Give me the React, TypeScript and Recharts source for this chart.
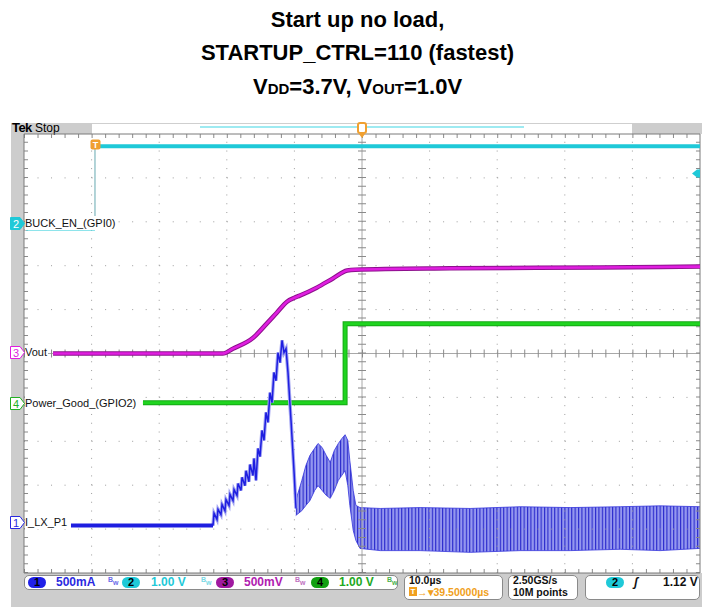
import React from "react"
import { ComposedChart, Line, Area, XAxis, YAxis, ReferenceLine } from "recharts"

// Scope screen: 10 horizontal divisions x 10 µs, 10 vertical divisions.
// X is time (µs from left edge), Y is graticule divisions (0 = centre line).

// Ch2 BUCK_EN (cyan)
const buckEnLowT = [0.3, 10.5]
const buckEnLowV = [2.82, 2.82]
const buckEnEdgeT = [10.5, 10.5]
const buckEnEdgeV = [2.82, 4.72]
const buckEnHighT = [10.5, 100]
const buckEnHighV = [4.72, 4.72]

// Ch3 Vout (magenta)
const voutT = [4.3, 29.4, 30.9, 33.9, 35.9, 37.4, 38.9, 40.0, 40.8, 43.3, 45.7, 47.8, 49.0, 63, 85.2, 100]
const voutV = [0, 0, 0.11, 0.36, 0.68, 0.93, 1.18, 1.27, 1.32, 1.5, 1.71, 1.89, 1.91, 1.94, 1.96, 1.98]

// Ch4 Power_Good (green)
const pgT = [17.6, 47.5, 47.5, 100]
const pgV = [-1.12, -1.12, 0.68, 0.68]

// Ch1 I_LX_P1 (blue): idle level, then ramp with switching teeth up to the peak
const ilxFlatT = [6.95, 27.96]
const ilxFlatV = [-3.92, -3.92]
const ilxRampT = [
  27.96, 28.11, 28.55, 28.7, 29.14, 29.29, 29.73, 29.88, 30.33, 30.47, 30.92, 31.07, 31.51, 31.66,
  32.1, 32.25, 32.69, 32.84, 33.28, 33.43, 33.88, 34.02, 34.32, 34.62, 34.91, 35.21, 35.5, 35.8,
  36.09, 36.39, 36.69, 36.98, 37.28, 37.57, 37.87, 38.17, 38.46, 38.76, 39.05, 39.5, 39.94, 40.24,
]
const ilxRampV = [
  -3.92, -3.64, -3.78, -3.55, -3.67, -3.44, -3.58, -3.33, -3.46, -3.21, -3.35, -3.1, -3.23, -2.96,
  -3.12, -2.82, -3.01, -2.67, -2.92, -2.53, -2.78, -2.39, -2.89, -2.16, -2.35, -1.75, -1.98, -1.34,
  -1.57, -0.89, -1.12, -0.43, -0.62, 0.02, -0.21, 0.3, 0.02, 0.11, -0.43, -1.53, -2.67, -3.53,
]
// ripple envelope after the peak (low / high edge of the persistence band)
const ilxBandT = [40.2, 41.1, 41.7, 42.3, 43.0, 43.5, 44.1, 44.7, 45.3, 45.9, 46.5, 47.0, 47.5, 47.9, 48.2, 48.7, 49.1, 49.7, 52.7, 58.6, 66.0, 73.4, 80.8, 88.2, 94.1, 100]
const ilxBandLo = [-3.69, -3.58, -3.46, -3.35, -3.12, -3.01, -3.12, -3.23, -3.3, -3.12, -2.89, -2.78, -2.67, -3.01, -3.46, -4.03, -4.26, -4.44, -4.49, -4.49, -4.53, -4.49, -4.49, -4.46, -4.49, -4.44]
const ilxBandHi = [-3.35, -2.89, -2.55, -2.32, -2.16, -2.05, -2.14, -2.32, -2.48, -2.21, -2.05, -1.94, -1.85, -1.98, -2.44, -3.12, -3.46, -3.51, -3.53, -3.51, -3.53, -3.49, -3.51, -3.49, -3.47, -3.49]

const gridX = [10, 20, 30, 40, 60, 70, 80, 90]
const gridY = [-4, -3, -2, -1, 1, 2, 3, 4]

const pts = (ts: number[], vs: number[]) => ts.map((t, i) => ({ t, v: vs[i] }))
const band = ilxBandT.map((t, i) => ({ t, band: [ilxBandLo[i], ilxBandHi[i]] }))

const SANS = '"Liberation Sans", Arial, sans-serif'
const CYAN = "#1fc9d8"
const MAGENTA = "#e01ee0"
const GREEN = "#1fd41f"
const BLUE = "#1e1ee0"
const GRID = "#9c9c9c"

const ChMarker = ({ y, n, color, filled }: { y: number; n: string; color: string; filled?: boolean }) => (
  <svg style={{ position: "absolute", left: 10, top: y - 6 }} width={16} height={13}>
    <path d="M0.5 0.5 H10 L14.5 6.5 L10 12.5 H0.5 Z" fill={filled ? color : "#fff"} stroke={color} />
    <text x={6} y={10.5} textAnchor="middle" fontSize={11} fontFamily={SANS} fill={filled ? "#fff" : color}>
      {n}
    </text>
  </svg>
)

const TraceLabel = ({ y, text }: { y: number; text: string }) => (
  <div
    style={{
      position: "absolute", left: 25, top: y - 7, height: 14, lineHeight: "14px", fontSize: 11,
      fontFamily: SANS, color: "#111", background: "#fff", paddingRight: 1,
    }}
  >
    {text}
  </div>
)

const ChBadge = ({ x, n, color }: { x: number; n: string; color: string }) => (
  <div
    style={{
      position: "absolute", left: x, top: 1, width: 18, height: 11, borderRadius: 6, background: color,
      textAlign: "center", fontSize: 11, lineHeight: "11px", fontWeight: "bold", color: "#000",
    }}
  >
    {n}
  </div>
)

const BwIcon = ({ x, color }: { x: number; color: string }) => (
  <span style={{ position: "absolute", left: x, top: 0, fontSize: 7, color, lineHeight: "8px" }}>
    B<span style={{ position: "relative", top: 3 }}>w</span>
  </span>
)

const box = (left: number, width: number, height: number): React.CSSProperties => ({
  position: "absolute", left, top: 575, width, height, boxSizing: "border-box",
  border: "1px solid #8a8a8a", borderRadius: 5, background: "#fff",
})

export default function App() {
  return (
    <div style={{ position: "absolute", left: 0, top: 0, width: 715, height: 607, background: "#fff", fontFamily: SANS, overflow: "hidden" }}>
      {/* title */}
      <div style={{ position: "absolute", left: 0, top: 0, width: 715, textAlign: "center", fontWeight: "bold", fontSize: 22, color: "#000" }}>
        <div style={{ position: "absolute", left: 0, width: 715, top: 7, lineHeight: "25px" }}>Start up no load,</div>
        <div style={{ position: "absolute", left: 0, width: 715, top: 40, lineHeight: "25px" }}>STARTUP_CTRL=110 (fastest)</div>
        <div style={{ position: "absolute", left: 0, width: 715, top: 74, lineHeight: "25px" }}>
          V<span style={{ fontSize: 15 }}>DD</span>=3.7V, V<span style={{ fontSize: 15 }}>OUT</span>=1.0V
        </div>
      </div>

      {/* scope frame */}
      <div style={{ position: "absolute", left: 11, top: 123, width: 691, height: 11, background: "#fff", borderTop: "1px solid #cfcfcf", boxSizing: "border-box" }} />
      <div style={{ position: "absolute", left: 11, top: 123, width: 81, height: 11, background: "#cdcdcd" }} />
      <div style={{ position: "absolute", left: 632, top: 123, width: 70, height: 11, background: "#cdcdcd" }} />
      <div style={{ position: "absolute", left: 11, top: 123, width: 13, height: 484, background: "#cdcdcd" }} />
      <div style={{ position: "absolute", left: 11, top: 573, width: 691, height: 34, background: "#cdcdcd" }} />
      <div style={{ position: "absolute", left: 200, top: 126, width: 324, height: 2, background: "#9eeaf1" }} />
      <div style={{ position: "absolute", left: 12, top: 121, fontSize: 12, lineHeight: "14px", color: "#000" }}>
        <b style={{ fontSize: 13, letterSpacing: -0.6 }}>Tek</b> Stop
      </div>

      <div style={{ position: "absolute", left: 0, top: 0 }}>
        <ComposedChart width={715} height={607} margin={{ top: 134, left: 24, right: 15, bottom: 34 }}>
          <defs>
            <pattern id="ripple" width="3.4" height="8" patternUnits="userSpaceOnUse">
              <rect width="3.4" height="8" fill="#9497ef" />
              <rect width="1.1" height="8" fill="#2828cc" />
            </pattern>
          </defs>
          <XAxis dataKey="t" type="number" domain={[0, 100]} hide allowDuplicatedCategory={false} />
          <YAxis type="number" domain={[-5, 5]} hide />

          {gridX.map((x) => (
            <ReferenceLine key={"gx" + x} x={x} stroke={GRID} strokeDasharray="1 7.78" />
          ))}
          {gridY.map((y) => (
            <ReferenceLine key={"gy" + y} y={y} stroke={GRID} strokeDasharray="1 12.52" />
          ))}
          <ReferenceLine x={50} stroke="#a8a8a8" />
          <ReferenceLine y={0} stroke="#a8a8a8" />
          <ReferenceLine x={50} stroke="#8a8a8a" strokeWidth={8} strokeDasharray="1 7.78" />
          <ReferenceLine y={0} stroke="#8a8a8a" strokeWidth={8} strokeDasharray="1 12.52" />
          <ReferenceLine y={4.955} stroke="#8a8a8a" strokeWidth={4} strokeDasharray="1 12.52" />
          <ReferenceLine y={-4.955} stroke="#8a8a8a" strokeWidth={4} strokeDasharray="1 12.52" />
          <ReferenceLine x={0.3} stroke="#8a8a8a" strokeWidth={4} strokeDasharray="1 7.78" />
          <ReferenceLine x={99.7} stroke="#8a8a8a" strokeWidth={4} strokeDasharray="1 7.78" />
          <ReferenceLine x={0} stroke="#7a7a7a" />
          <ReferenceLine x={100} stroke="#7a7a7a" />
          <ReferenceLine y={5} stroke="#7a7a7a" />
          <ReferenceLine y={-5} stroke="#7a7a7a" />

          {/* Ch2 BUCK_EN */}
          <Line data={pts(buckEnLowT, buckEnLowV)} dataKey="v" type="linear" stroke={CYAN} strokeWidth={1.5} dot={false} activeDot={false} isAnimationActive={false} />
          <Line data={pts(buckEnEdgeT, buckEnEdgeV)} dataKey="v" type="linear" stroke="#7fb7bd" strokeWidth={1.2} dot={false} activeDot={false} isAnimationActive={false} />
          <Line data={pts(buckEnHighT, buckEnHighV)} dataKey="v" type="linear" stroke={CYAN} strokeWidth={4} dot={false} activeDot={false} isAnimationActive={false} />

          {/* Ch3 Vout */}
          <Line data={pts(voutT, voutV)} dataKey="v" type="monotone" stroke="#8c108c" strokeWidth={4.5} dot={false} activeDot={false} isAnimationActive={false} />
          <Line data={pts(voutT, voutV)} dataKey="v" type="monotone" stroke={MAGENTA} strokeWidth={2.6} dot={false} activeDot={false} isAnimationActive={false} />

          {/* Ch4 Power_Good */}
          <Line data={pts(pgT, pgV)} dataKey="v" type="linear" stroke="#16a816" strokeWidth={5} dot={false} activeDot={false} isAnimationActive={false} />
          <Line data={pts(pgT, pgV)} dataKey="v" type="linear" stroke={GREEN} strokeWidth={3} dot={false} activeDot={false} isAnimationActive={false} />

          {/* Ch1 I_LX_P1 */}
          <Area data={band} dataKey="band" type="linear" stroke="#3434dc" strokeWidth={0.8} fill="url(#ripple)" fillOpacity={1} dot={false} activeDot={false} isAnimationActive={false} />
          <Line data={pts(ilxRampT, ilxRampV)} dataKey="v" type="linear" stroke="#a2a4f2" strokeWidth={3.5} dot={false} activeDot={false} isAnimationActive={false} />
          <Line data={pts(ilxRampT, ilxRampV)} dataKey="v" type="linear" stroke={BLUE} strokeWidth={1.5} dot={false} activeDot={false} isAnimationActive={false} />
          <Line data={pts(ilxFlatT, ilxFlatV)} dataKey="v" type="linear" stroke={BLUE} strokeWidth={4} dot={false} activeDot={false} isAnimationActive={false} />
        </ComposedChart>
      </div>

      {/* trigger markers */}
      <svg style={{ position: "absolute", left: 355, top: 121 }} width={14} height={18}>
        <rect x={3} y={2} width={8} height={10} rx={2} fill="#fff" stroke="#f0a030" strokeWidth={2} />
        <path d="M4 13 H10 L7 17 Z" fill="#f0a030" />
      </svg>
      <svg style={{ position: "absolute", left: 90, top: 139 }} width={11} height={11}>
        <rect x={0.5} y={0.5} width={10} height={10} rx={2} fill="#f0a030" />
        <text x={5.5} y={9} textAnchor="middle" fontSize={9} fontWeight="bold" fill="#fff" fontFamily={SANS}>T</text>
      </svg>
      <svg style={{ position: "absolute", left: 692, top: 169 }} width={9} height={9}>
        <path d="M0 4.5 L5 0.5 H8 V8.5 H5 Z" fill={CYAN} />
      </svg>

      {/* channel labels */}
      <ChMarker y={223} n="2" color={CYAN} filled />
      <TraceLabel y={223} text="BUCK_EN_(GPI0)" />
      <ChMarker y={352} n="3" color={MAGENTA} />
      <TraceLabel y={352} text="Vout" />
      <ChMarker y={403} n="4" color="#22b022" />
      <TraceLabel y={403} text="Power_Good_(GPIO2)" />
      <ChMarker y={522} n="1" color="#2a2ae0" />
      <TraceLabel y={522} text="I_LX_P1" />

      {/* status bar */}
      <div style={{ ...box(24, 374, 15), fontWeight: "bold", fontSize: 12, lineHeight: "13px" }}>
        <ChBadge x={3} n="1" color="#2020e8" />
        <span style={{ position: "absolute", left: 31, top: 0, color: "#2a2ae0" }}>500mA</span>
        <BwIcon x={83} color="#6a6ae8" />
        <ChBadge x={97} n="2" color={CYAN} />
        <span style={{ position: "absolute", left: 126, top: 0, color: CYAN }}>1.00 V</span>
        <BwIcon x={176} color="#7ad8e4" />
        <ChBadge x={191} n="3" color="#a019a0" />
        <span style={{ position: "absolute", left: 219, top: 0, color: "#b020b0" }}>500mV</span>
        <BwIcon x={270} color="#c070c0" />
        <ChBadge x={286} n="4" color="#12a012" />
        <span style={{ position: "absolute", left: 314, top: 0, color: "#22a822" }}>1.00 V</span>
        <BwIcon x={362} color="#4ab04a" />
      </div>
      <div style={{ ...box(404, 99, 25), fontWeight: "bold", fontSize: 10.5, lineHeight: "11px" }}>
        <span style={{ position: "absolute", left: 4, top: -1, color: "#111" }}>10.0µs</span>
        <span style={{ position: "absolute", left: 4, top: 11, color: "#f0a020", whiteSpace: "nowrap" }}>
          <span style={{ display: "inline-block", width: 8, height: 9, background: "#f0a020", color: "#fff", fontSize: 8, lineHeight: "9px", textAlign: "center", verticalAlign: "top" }}>T</span>
          →▾39.50000µs
        </span>
      </div>
      <div style={{ ...box(508, 70, 25), fontWeight: "bold", fontSize: 10.5, lineHeight: "11px", color: "#111" }}>
        <span style={{ position: "absolute", left: 4, top: -1 }}>2.50GS/s</span>
        <span style={{ position: "absolute", left: 4, top: 11, whiteSpace: "nowrap" }}>10M points</span>
      </div>
      <div style={{ ...box(585, 115, 25), fontWeight: "bold", fontSize: 12, lineHeight: "13px", color: "#111" }}>
        <ChBadge x={20} n="2" color={CYAN} />
        <span style={{ position: "absolute", left: 48, top: 0, fontStyle: "italic" }}>ʃ</span>
        <span style={{ position: "absolute", left: 77, top: 0 }}>1.12 V</span>
      </div>
    </div>
  )
}
